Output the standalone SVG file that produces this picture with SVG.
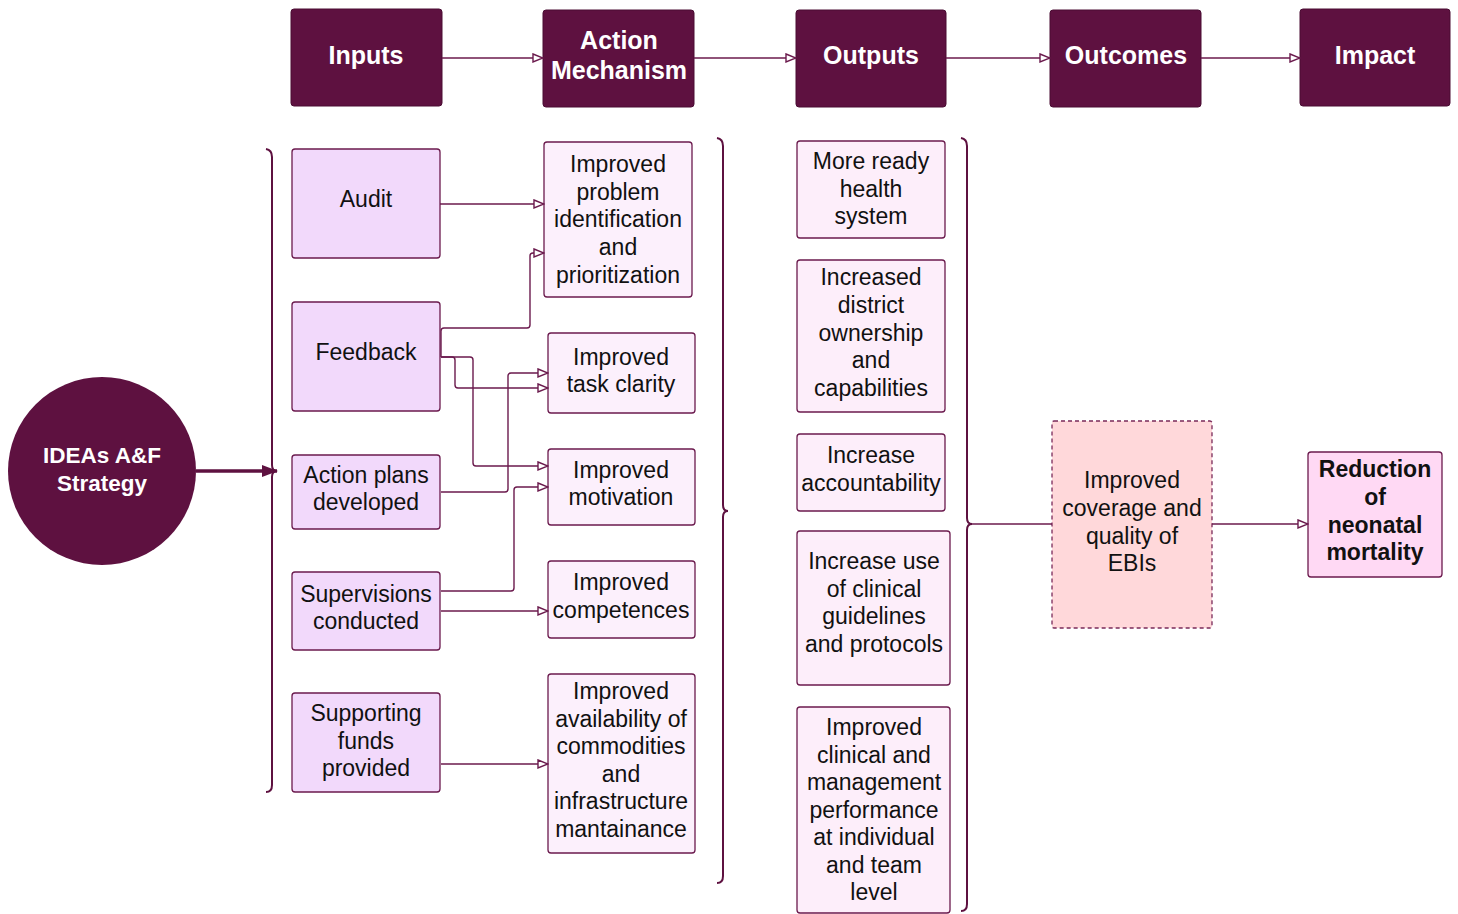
<svg xmlns="http://www.w3.org/2000/svg" width="1458" height="914" viewBox="0 0 1458 914">
<defs>
<style>
.hdr{fill:#5e1140;stroke:#4a0c33;stroke-width:1}
.ht{font-family:"Liberation Sans",Arial,sans-serif;font-weight:bold;font-size:25px;fill:#ffffff;text-anchor:middle}
.inp{fill:#f2d9fb;stroke:#6b1a4d;stroke-width:1.3}
.act{fill:#fcf0fc;stroke:#6b1a4d;stroke-width:1.3}
.out{fill:#fdeefa;stroke:#6b1a4d;stroke-width:1.3}
.oc{fill:#ffd8da;stroke:#7a2a5a;stroke-width:1.3;stroke-dasharray:4 3}
.imp{fill:#ffd9f4;stroke:#6b1a4d;stroke-width:1.3}
.t{font-family:"Liberation Sans",Arial,sans-serif;font-size:23px;fill:#111111;text-anchor:middle}
.tb{font-family:"Liberation Sans",Arial,sans-serif;font-size:23px;font-weight:bold;fill:#111111;text-anchor:middle}
.ct{font-family:"Liberation Sans",Arial,sans-serif;font-size:22.5px;font-weight:bold;fill:#ffffff;text-anchor:middle}
.c{fill:none;stroke:#6b1a4d;stroke-width:1.4}
.br{fill:none;stroke:#5e1140;stroke-width:2}
</style>
<marker id="ah" viewBox="0 0 12 10" refX="11" refY="5" markerWidth="12" markerHeight="10" markerUnits="userSpaceOnUse" orient="auto">
<path d="M1,1 L11,5 L1,9 Z" fill="#ffffff" stroke="#6b1a4d" stroke-width="1.4"/>
</marker>
<marker id="ahf" viewBox="0 0 16 12" refX="15" refY="6" markerWidth="16" markerHeight="12" markerUnits="userSpaceOnUse" orient="auto">
<path d="M0,0 L16,6 L0,12 Z" fill="#5e1140"/>
</marker>
</defs>
<rect width="1458" height="914" fill="#ffffff"/>

<g id="h-inputs"><rect class="hdr" x="291" y="9" width="151" height="97" rx="3"/><text class="ht" x="366" y="64">Inputs</text></g>
<g id="h-action"><rect class="hdr" x="543" y="10" width="151" height="97" rx="3"/><text class="ht" x="619" y="49">Action</text><text class="ht" x="619" y="79">Mechanism</text></g>
<g id="h-outputs"><rect class="hdr" x="796" y="10" width="150" height="97" rx="3"/><text class="ht" x="871" y="64">Outputs</text></g>
<g id="h-outcomes"><rect class="hdr" x="1050" y="10" width="151" height="97" rx="3"/><text class="ht" x="1126" y="64">Outcomes</text></g>
<g id="h-impact"><rect class="hdr" x="1300" y="9" width="150" height="97" rx="3"/><text class="ht" x="1375" y="64">Impact</text></g>

<g id="strategy"><circle cx="102" cy="471" r="94" fill="#5e1140"/><text class="ct" x="102" y="463">IDEAs A&amp;F</text><text class="ct" x="102" y="491">Strategy</text></g>

<g id="in-audit"><rect class="inp" x="292" y="149" width="148" height="109" rx="3"/><text class="t" x="366" y="207">Audit</text></g>
<g id="in-feedback"><rect class="inp" x="292" y="302" width="148" height="109" rx="3"/><text class="t" x="366" y="360">Feedback</text></g>
<g id="in-plans"><rect class="inp" x="292" y="455" width="148" height="74" rx="3"/><text class="t" x="366" y="483">Action plans</text><text class="t" x="366" y="510">developed</text></g>
<g id="in-super"><rect class="inp" x="292" y="572" width="148" height="78" rx="3"/><text class="t" x="366" y="602">Supervisions</text><text class="t" x="366" y="629">conducted</text></g>
<g id="in-funds"><rect class="inp" x="292" y="693" width="148" height="99" rx="3"/><text class="t" x="366" y="721">Supporting</text><text class="t" x="366" y="749">funds</text><text class="t" x="366" y="776">provided</text></g>

<g id="am-problem"><rect class="act" x="544" y="142" width="148" height="155" rx="3"/><text class="t" x="618" y="172">Improved</text><text class="t" x="618" y="200">problem</text><text class="t" x="618" y="227">identification</text><text class="t" x="618" y="255">and</text><text class="t" x="618" y="283">prioritization</text></g>
<g id="am-task"><rect class="act" x="548" y="333" width="147" height="80" rx="3"/><text class="t" x="621" y="365">Improved</text><text class="t" x="621" y="392">task clarity</text></g>
<g id="am-motivation"><rect class="act" x="548" y="449" width="147" height="76" rx="3"/><text class="t" x="621" y="478">Improved</text><text class="t" x="621" y="505">motivation</text></g>
<g id="am-comp"><rect class="act" x="548" y="561" width="147" height="77" rx="3"/><text class="t" x="621" y="590">Improved</text><text class="t" x="621" y="618">competences</text></g>
<g id="am-avail"><rect class="act" x="548" y="674" width="147" height="179" rx="3"/><text class="t" x="621" y="699">Improved</text><text class="t" x="621" y="727">availability of</text><text class="t" x="621" y="754">commodities</text><text class="t" x="621" y="782">and</text><text class="t" x="621" y="809">infrastructure</text><text class="t" x="621" y="837">mantainance</text></g>

<g id="o-ready"><rect class="out" x="797" y="141" width="148" height="97" rx="3"/><text class="t" x="871" y="169">More ready</text><text class="t" x="871" y="197">health</text><text class="t" x="871" y="224">system</text></g>
<g id="o-district"><rect class="out" x="797" y="260" width="148" height="152" rx="3"/><text class="t" x="871" y="285">Increased</text><text class="t" x="871" y="313">district</text><text class="t" x="871" y="341">ownership</text><text class="t" x="871" y="368">and</text><text class="t" x="871" y="396">capabilities</text></g>
<g id="o-account"><rect class="out" x="797" y="434" width="148" height="77" rx="3"/><text class="t" x="871" y="463">Increase</text><text class="t" x="871" y="491">accountability</text></g>
<g id="o-guidelines"><rect class="out" x="797" y="531" width="153" height="154" rx="3"/><text class="t" x="874" y="569">Increase use</text><text class="t" x="874" y="597">of clinical</text><text class="t" x="874" y="624">guidelines</text><text class="t" x="874" y="652">and protocols</text></g>
<g id="o-perf"><rect class="out" x="797" y="707" width="153" height="206" rx="3"/><text class="t" x="874" y="735">Improved</text><text class="t" x="874" y="763">clinical and</text><text class="t" x="874" y="790">management</text><text class="t" x="874" y="818">performance</text><text class="t" x="874" y="845">at individual</text><text class="t" x="874" y="873">and team</text><text class="t" x="874" y="900">level</text></g>

<g id="outcome"><rect class="oc" x="1052" y="421" width="160" height="207" rx="2"/><text class="t" x="1132" y="488">Improved</text><text class="t" x="1132" y="516">coverage and</text><text class="t" x="1132" y="544">quality of</text><text class="t" x="1132" y="571">EBIs</text></g>
<g id="impact"><rect class="imp" x="1308" y="452" width="134" height="125" rx="3"/><text class="tb" x="1375" y="477">Reduction</text><text class="tb" x="1375" y="505">of</text><text class="tb" x="1375" y="533">neonatal</text><text class="tb" x="1375" y="560">mortality</text></g>

<g id="braces">
<path class="br" d="M266,149 Q272,150 272,157 V465 Q272,471 277,471 Q272,471 272,477 V785 Q272,792 266,792"/>
<path class="br" d="M717,138 Q723,139 723,146 V505 Q723,511 728,511 Q723,511 723,517 V876 Q723,883 717,883"/>
<path class="br" d="M961,138 Q967,139 967,146 V518 Q967,524 972,524 Q967,524 967,530 V904 Q967,911 961,911"/>
</g>

<g id="connectors">
<line class="c" x1="442" y1="58" x2="543" y2="58" marker-end="url(#ah)"/>
<line class="c" x1="694" y1="58" x2="796" y2="58" marker-end="url(#ah)"/>
<line class="c" x1="946" y1="58" x2="1050" y2="58" marker-end="url(#ah)"/>
<line class="c" x1="1201" y1="58" x2="1300" y2="58" marker-end="url(#ah)"/>
<line x1="196" y1="471" x2="277" y2="471" stroke="#5e1140" stroke-width="3.5" marker-end="url(#ahf)"/>
<line class="c" x1="440" y1="204" x2="544" y2="204" marker-end="url(#ah)"/>
<path class="c" d="M441,357 V331 Q441,328 444,328 H527 Q530,328 530,325 V256 Q530,253 533,253 H544" marker-end="url(#ah)"/>
<path class="c" d="M441,357 H452 Q455,357 455,360 V385 Q455,388 458,388 H548" marker-end="url(#ah)"/>
<path class="c" d="M441,357 H470 Q473,357 473,360 V463 Q473,466 476,466 H548" marker-end="url(#ah)"/>
<path class="c" d="M441,492 H505 Q508,492 508,489 V376 Q508,373 511,373 H548" marker-end="url(#ah)"/>
<path class="c" d="M441,591 H511 Q514,591 514,588 V490 Q514,487 517,487 H548" marker-end="url(#ah)"/>
<line class="c" x1="441" y1="611" x2="548" y2="611" marker-end="url(#ah)"/>
<line class="c" x1="441" y1="764" x2="548" y2="764" marker-end="url(#ah)"/>
<line class="c" x1="972" y1="524" x2="1052" y2="524"/>
<line class="c" x1="1212" y1="524" x2="1308" y2="524" marker-end="url(#ah)"/>
</g>
</svg>
